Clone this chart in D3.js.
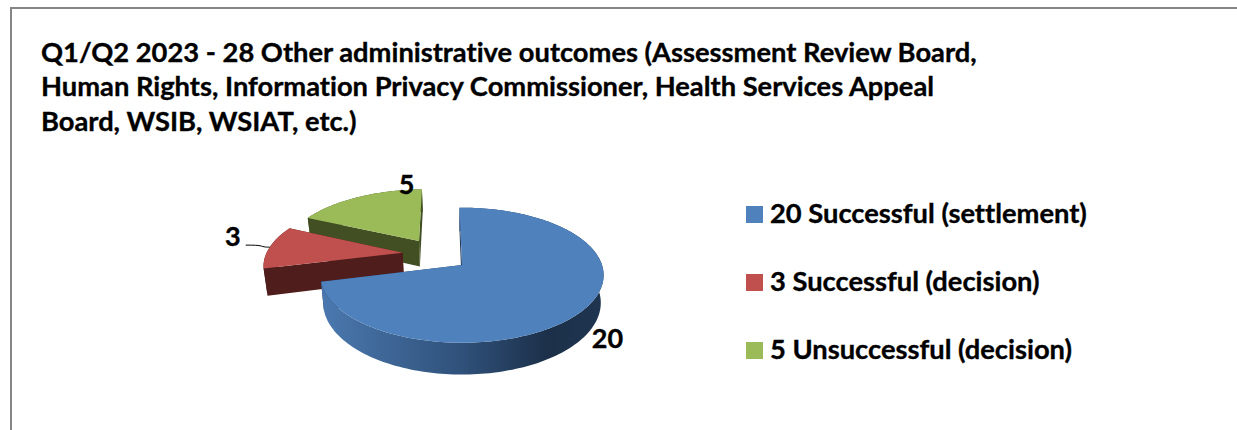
<!DOCTYPE html>
<html>
<head>
<meta charset="utf-8">
<script src="https://cdn.jsdelivr.net/npm/d3@7"></script>
<style>
  html, body { margin: 0; padding: 0; background: #fff; }
  svg { display: block; }
  text { font-family: Lato, "Open Sans", sans-serif; font-weight: 700; fill: #000; stroke: #000; stroke-width: 0.35px; font-variant-ligatures: none; }
</style>
</head>
<body>
<div id="chart"></div>
<script>
const titleLines = [
  "Q1/Q2 2023 - 28 Other administrative outcomes (Assessment Review Board,",
  "Human Rights, Information Privacy Commissioner, Health Services Appeal",
  "Board, WSIB, WSIAT, etc.)"
];
const categories = ["20 Successful (settlement)", "3 Successful (decision)", "5 Unsuccessful (decision)"];
const values = [20, 3, 5];

const topColors = ["#4f81bd", "#c0504d", "#9bbb59"];
const sideColors = ["url(#blueSide)", "#4f1d1b", "#414f22"];

// how far each slice is pulled out, in pie radius units (x, back)
const explode = [[0, 0], [-0.436, 0.191], [-0.325, 0.385]];
// label nudges from the slice rim
const labelNudge = [[23, 29], [-37, -11], [48, -12]];

const width = 1237, height = 430;
const cx = 462, cy = 265, rx = 140, ry = 66, persp = 0.151, depth = 27, shrink = 0.98;
const rotation = -1.2 * Math.PI / 180;

const svg = d3.select("#chart").append("svg")
    .attr("width", width)
    .attr("height", height);

// frame, only top and left show in the crop
svg.append("path")
    .attr("d", d3.line()([[11, height], [11, 8], [width, 8]]))
    .attr("fill", "none")
    .attr("stroke", "#868686")
    .attr("stroke-width", 2);

svg.append("g").selectAll("text")
    .data(titleLines)
    .enter().append("text")
    .attr("x", 41)
    .attr("y", (d, i) => 61.5 + i * 34.5)
    .style("font-size", "27.3px")
    .text(d => d);

const grad = svg.append("defs").append("linearGradient")
    .attr("id", "blueSide")
    .attr("gradientUnits", "userSpaceOnUse")
    .attr("x1", 324).attr("x2", 604).attr("y1", 0).attr("y2", 0);
grad.append("stop").attr("offset", "0").attr("stop-color", "#4a78ae");
grad.append("stop").attr("offset", "0.5").attr("stop-color", "#2f5079");
grad.append("stop").attr("offset", "0.8").attr("stop-color", "#1c3049");
grad.append("stop").attr("offset", "1").attr("stop-color", "#1f3550");

// plane coords to screen, with perspective towards the back
function project(u, v, lower) {
  const w = 1 + persp * v;
  let x = cx + rx * u / w;
  let y = cy - ry * v / w;
  if (lower) {
    x = cx + (x - cx) * shrink;
    y += depth / w;
  }
  return [x, y];
}

const pie = d3.pie().sort(null).startAngle(rotation).endAngle(rotation + 2 * Math.PI);
const arcs = pie(values);
const line = d3.line();

function rimPoints(d, i, lower) {
  const e = explode[i];
  const n = Math.ceil((d.endAngle - d.startAngle) * 40);
  return d3.range(n + 1).map(k => {
    const a = d.startAngle + (d.endAngle - d.startAngle) * k / n;
    return project(e[0] + Math.sin(a), e[1] + Math.cos(a), lower);
  });
}

// back to front: green, red, blue
const order = [2, 1, 0];
const slices = svg.append("g").selectAll("g")
    .data(order)
    .enter().append("g");

slices.each(function(i) {
  const d = arcs[i], e = explode[i], g = d3.select(this);
  const rimTop = rimPoints(d, i, false), rimLow = rimPoints(d, i, true);
  const apexTop = project(e[0], e[1], false), apexLow = project(e[0], e[1], true);

  // start and end walls
  [[rimTop[0], rimLow[0]], [rimTop[rimTop.length - 1], rimLow[rimLow.length - 1]]].forEach(p => {
    g.append("path")
        .attr("d", line([apexTop, p[0], p[1], apexLow]) + "Z")
        .attr("fill", i === 0 ? "#1f3550" : sideColors[i]);
  });
  // outer wall
  g.append("path")
      .attr("d", line(rimTop.concat(rimLow.slice().reverse())) + "Z")
      .attr("fill", sideColors[i]);
  // top face
  g.append("path")
      .attr("d", line([apexTop].concat(rimTop)) + "Z")
      .attr("fill", topColors[i]);
});

// data labels
const anchors = arcs.map((d, i) => {
  const mid = (d.startAngle + d.endAngle) / 2;
  return project(explode[i][0] + Math.sin(mid), explode[i][1] + Math.cos(mid), false);
});

svg.append("path")
    .attr("d", d3.line().curve(d3.curveBasis)([
      [anchors[1][0] - 24, anchors[1][1] - 2],
      [anchors[1][0] - 10, anchors[1][1] - 2],
      [anchors[1][0] - 6, anchors[1][1]],
      anchors[1]
    ]))
    .attr("fill", "none")
    .attr("stroke", "#000")
    .attr("stroke-width", 1);

svg.append("g").selectAll("text")
    .data(values)
    .enter().append("text")
    .attr("x", (d, i) => anchors[i][0] + labelNudge[i][0])
    .attr("y", (d, i) => anchors[i][1] + labelNudge[i][1])
    .attr("dy", ".35em")
    .attr("text-anchor", "middle")
    .style("font-size", "27px")
    .text(d => d);

// legend
const color = d3.scaleOrdinal().domain(categories).range(topColors);
const legendY = d3.scalePoint().domain(categories).range([223, 359]);

const legend = svg.append("g").selectAll("g")
    .data(categories)
    .enter().append("g")
    .attr("transform", d => "translate(746," + legendY(d) + ")");

legend.append("rect")
    .attr("y", -17)
    .attr("width", 17)
    .attr("height", 17)
    .attr("fill", color);

legend.append("text")
    .attr("x", 24)
    .style("font-size", "27.3px")
    .text(d => d);
</script>
</body>
</html>
